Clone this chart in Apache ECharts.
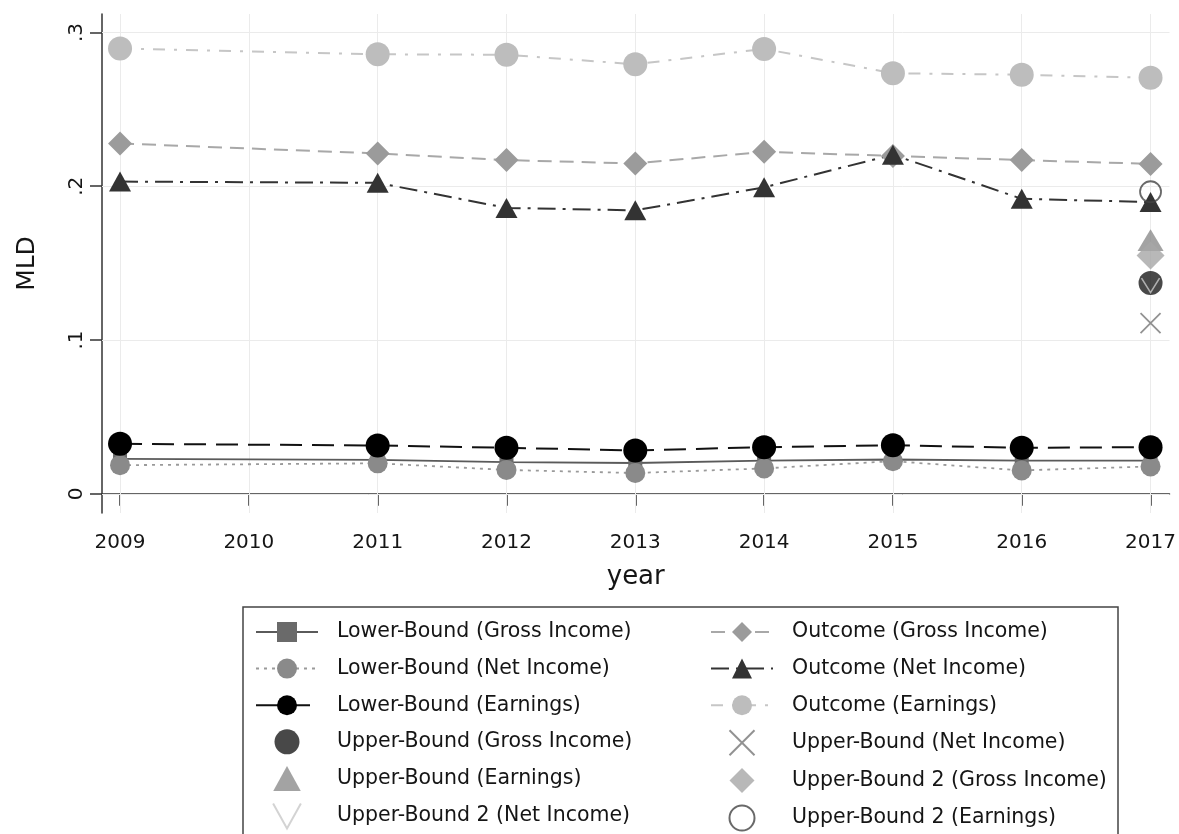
<!DOCTYPE html>
<html>
<head>
<meta charset="utf-8">
<script src="https://cdn.jsdelivr.net/npm/echarts@6/dist/echarts.min.js"></script>
<style>
  html, body { margin: 0; padding: 0; background: #fff; }
  #chart { width: 1179px; height: 834px; }
</style>
</head>
<body>
<div id="chart"></div>
<script>
// Survey years with observations (no 2010 wave)
const years = [2009, 2011, 2012, 2013, 2014, 2015, 2016, 2017];
// Axis tick labels
const yearTicks = [2009, 2010, 2011, 2012, 2013, 2014, 2015, 2016, 2017];
const mldTicks = [0, 0.1, 0.2, 0.3];

// Mean log deviation by year
const lowerGross  = [0.0227, 0.0220, 0.0206, 0.0200, 0.0216, 0.0223, 0.0216, 0.0216];
const lowerNet    = [0.0186, 0.0198, 0.0155, 0.0135, 0.0165, 0.0212, 0.0152, 0.0178];
const lowerEarn   = [0.0325, 0.0314, 0.0299, 0.0282, 0.0303, 0.0316, 0.0299, 0.0303];
const outcomeGross = [0.2278, 0.2213, 0.2170, 0.2148, 0.2224, 0.2197, 0.2170, 0.2145];
const outcomeNet   = [0.2030, 0.2022, 0.1859, 0.1843, 0.1993, 0.2205, 0.1918, 0.1897];
const outcomeEarn  = [0.2896, 0.2858, 0.2855, 0.2793, 0.2893, 0.2735, 0.2725, 0.2705];

// Bounds, 2017 only
const boundYear = 2017;
const upperGross  = 0.1370;
const upperNet    = 0.1110;
const upperEarn   = 0.1650;
const upper2Gross = 0.1550;
const upper2Net   = 0.1355;
const upper2Earn  = 0.1964;

const FONT = "'DejaVu Sans', 'Liberation Sans', sans-serif";
const TEXT = '#151515';
const pairs = vals => years.map((y, i) => [y, vals[i]]);

function lineSeries(name, vals, symbol, size, color, lineColor, dash, width) {
  return {
    name, type: 'line', data: pairs(vals),
    symbol, symbolSize: size, showSymbol: true,
    itemStyle: { color },
    lineStyle: { color: lineColor, width: width, type: dash },
    emphasis: { disabled: true },
    z: 2
  };
}
function pointSeries(name, value, symbol, size, style) {
  return {
    name, type: 'scatter', data: [[boundYear, value]],
    symbol, symbolSize: size, symbolKeepAspect: true, itemStyle: style,
    emphasis: { disabled: true }, z: 3
  };
}

// Outline shapes for the single-point markers (paths keep their aspect in the legend)
const V_PATH = 'path://M0,0 L10,18 L20,0';
const X_PATH = 'path://M0,0 L20,20 M20,0 L0,20';
const TRI_PATH = 'path://M11,0 L22,20 L0,20 Z';
const DIAMOND_PATH = 'path://M10,0 L20,10 L10,20 L0,10 Z';

const series = [
  // plot-region grid lines
  {
    name: 'grid', type: 'line', data: [], silent: true,
    markLine: {
      silent: true, symbol: 'none', z: 1, animation: false,
      label: { show: false },
      lineStyle: { color: '#ebebeb', width: 1, type: 'solid' },
      data: mldTicks.map(v => ({ yAxis: v })).concat(yearTicks.map(v => ({ xAxis: v })))
    }
  },
  lineSeries('Lower-Bound (Gross Income)', lowerGross, 'rect', 14, '#6a6a6a', '#5a5a5a', 'solid', 1.8),
  lineSeries('Outcome (Gross Income)', outcomeGross, 'diamond', 24, '#9b9b9b', '#a8a8a8', [14, 8], 2),
  lineSeries('Lower-Bound (Net Income)', lowerNet, 'circle', 20, '#8a8a8a', '#9a9a9a', [3, 5], 1.8),
  lineSeries('Outcome (Net Income)', outcomeNet, 'triangle', [22, 20], '#333333', '#333333', [18, 7, 3, 7], 2),
  lineSeries('Lower-Bound (Earnings)', lowerEarn, 'circle', 24, '#000000', '#111111', [22, 10], 2),
  lineSeries('Outcome (Earnings)', outcomeEarn, 'circle', 24, '#bdbdbd', '#c6c6c6', [12, 9, 3, 9], 2),
  pointSeries('Upper-Bound (Gross Income)', upperGross, 'circle', 24, { color: '#1a1a1a' }),
  pointSeries('Upper-Bound (Net Income)', upperNet, X_PATH, 20, { color: 'none', borderColor: '#777777', borderWidth: 1.8 }),
  pointSeries('Upper-Bound (Earnings)', upperEarn, TRI_PATH, [26, 24], { color: '#8c8c8c' }),
  pointSeries('Upper-Bound 2 (Gross Income)', upper2Gross, DIAMOND_PATH, 28, { color: '#a6a6a6' }),
  pointSeries('Upper-Bound 2 (Net Income)', upper2Net, V_PATH, [18, 16], { color: 'none', borderColor: '#c8c8c8', borderWidth: 1.5 }),
  pointSeries('Upper-Bound 2 (Earnings)', upper2Earn, 'circle', 21, { color: 'none', borderColor: '#444444', borderWidth: 1.8 })
];

const legendBase = {
  orient: 'vertical', top: 618, padding: 0, height: 260,
  itemWidth: 62, itemHeight: 25, itemGap: 8.6,
  selectedMode: false,
  symbolKeepAspect: true,
  textStyle: { fontFamily: FONT, fontSize: 20.5, lineHeight: 28, color: TEXT, padding: [0, 0, 0, 14] }
};

const option = {
  backgroundColor: '#ffffff',
  animation: false,
  grid: { left: 102, right: 9, top: 14, bottom: 321, containLabel: false },
  xAxis: {
    type: 'value', min: 2008.86, max: 2017.147,
    name: 'year', nameLocation: 'middle', nameGap: 51,
    nameTextStyle: { fontFamily: FONT, fontSize: 26, color: TEXT },
    axisLine: { show: true, lineStyle: { color: '#333', width: 1.5 } },
    axisTick: { show: true, length: 12, lineStyle: { color: '#333', width: 1.5 }, customValues: yearTicks },
    axisLabel: { customValues: yearTicks, margin: 20, fontFamily: FONT, fontSize: 20, color: TEXT,
                 formatter: v => String(v) },
    splitLine: { show: false }
  },
  yAxis: {
    type: 'value', min: -0.0125, max: 0.312,
    name: 'MLD', nameLocation: 'middle', nameGap: 62, nameRotate: 90,
    nameTextStyle: { fontFamily: FONT, fontSize: 25, color: TEXT },
    axisLine: { show: true, lineStyle: { color: '#333', width: 1.5 } },
    axisTick: { show: true, length: 12, lineStyle: { color: '#333', width: 1.5 }, customValues: mldTicks },
    axisLabel: { customValues: mldTicks, rotate: 90, margin: 15, fontFamily: FONT, fontSize: 20, color: TEXT,
                 formatter: v => (v === 0 ? '0' : String(v).replace(/^0/, '')) },
    splitLine: { show: false }
  },
  legend: [
    Object.assign({}, legendBase, {
      left: 255,
      data: ['Lower-Bound (Gross Income)', 'Lower-Bound (Net Income)', 'Lower-Bound (Earnings)',
             'Upper-Bound (Gross Income)', 'Upper-Bound (Earnings)', 'Upper-Bound 2 (Net Income)']
    }),
    Object.assign({}, legendBase, {
      left: 710,
      data: ['Outcome (Gross Income)', 'Outcome (Net Income)', 'Outcome (Earnings)',
             'Upper-Bound (Net Income)', 'Upper-Bound 2 (Gross Income)', 'Upper-Bound 2 (Earnings)']
    })
  ],
  graphic: [{
    type: 'rect', z: -1, silent: true,
    shape: { x: 243, y: 607, width: 875, height: 260 },
    style: { fill: 'none', stroke: '#444', lineWidth: 1.5 }
  }],
  series
};

const chart = echarts.init(document.getElementById('chart'), null, { renderer: 'canvas' });
chart.setOption(option);
</script>
</body>
</html>
